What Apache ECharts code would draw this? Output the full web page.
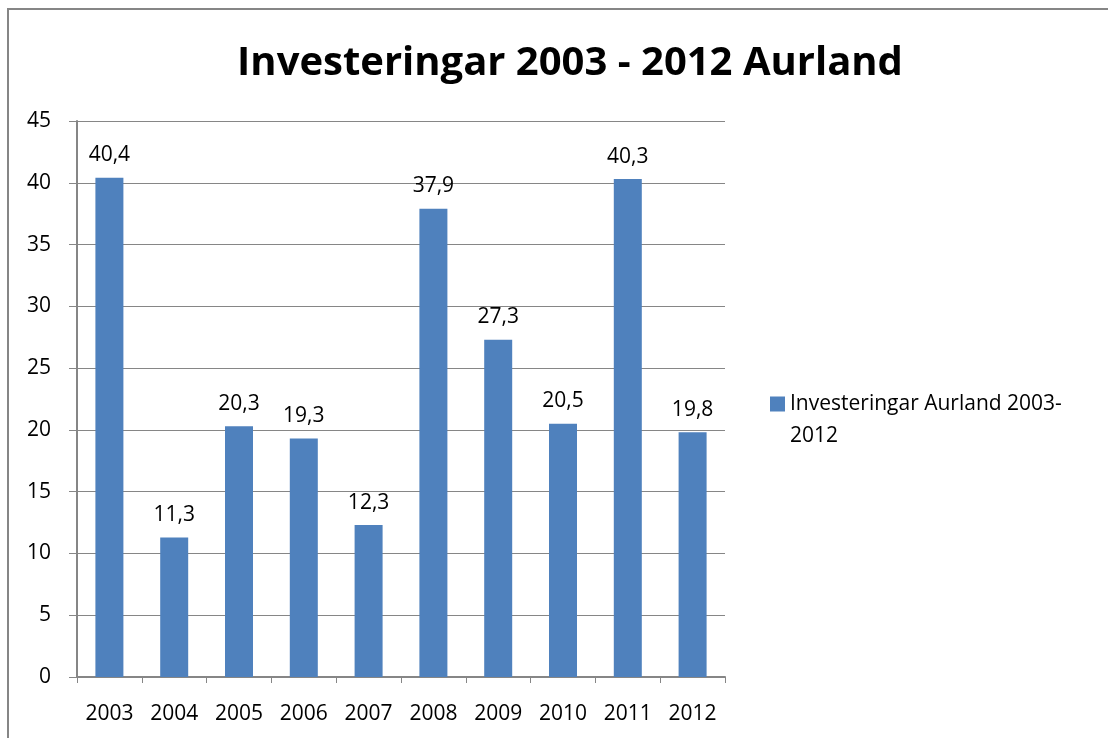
<!DOCTYPE html>
<html>
<head>
<meta charset="utf-8">
<script src="https://cdn.jsdelivr.net/npm/echarts@6/dist/echarts.min.js"></script>
<style>
  html, body { margin: 0; padding: 0; background: #fff; }
  #chart { width: 1108px; height: 738px; }
</style>
</head>
<body>
<div id="chart"></div>
<script>
// data
var years = ['2003', '2004', '2005', '2006', '2007', '2008', '2009', '2010', '2011', '2012'];
var values = [40.4, 11.3, 20.3, 19.3, 12.3, 37.9, 27.3, 20.5, 40.3, 19.8];
var seriesName = 'Investeringar Aurland 2003-2012';

var font = 'Open Sans';
var grey = '#868686';

var myChart = echarts.init(document.getElementById('chart'));
myChart.setOption({
    animation: false,
    backgroundColor: '#fff',
    title: {
        text: 'Investeringar 2003 - 2012 Aurland',
        left: 565,
        top: 39,
        textAlign: 'center',
        textStyle: { fontFamily: font, fontSize: 40, fontWeight: 'bold', color: '#000' }
    },
    // outer chart frame
    graphic: [{
        type: 'rect',
        shape: { x: 8, y: 9, width: 1200, height: 800 },
        style: { fill: null, stroke: grey, lineWidth: 2 },
        silent: true
    }],
    legend: {
        left: 770,
        top: 356,
        padding: 0,
        itemWidth: 15,
        itemHeight: 15,
        itemGap: 6,
        icon: 'rect',
        // leading blank line keeps the first text line level with the icon
        formatter: function () { return ' \nInvesteringar Aurland 2003-\n2012'; },
        textStyle: { fontFamily: font, fontSize: 21, color: '#000', lineHeight: 32 }
    },
    grid: { left: 77, right: 383, top: 121, bottom: 61 },
    xAxis: {
        type: 'category',
        data: years,
        axisLine: { lineStyle: { color: grey, width: 2 } },
        axisTick: { show: true, length: 6, lineStyle: { color: grey } },
        axisLabel: { fontFamily: font, fontSize: 21, color: '#000', margin: 27 }
    },
    yAxis: {
        type: 'value',
        min: 0,
        max: 45,
        interval: 5,
        axisLine: { show: true, lineStyle: { color: grey, width: 2 } },
        axisTick: { show: true, length: 8, lineStyle: { color: grey } },
        splitLine: { lineStyle: { color: grey, width: 1 } },
        axisLabel: { fontFamily: font, fontSize: 21, color: '#000', margin: 26 }
    },
    series: [{
        name: seriesName,
        type: 'bar',
        data: values,
        barWidth: 28,
        itemStyle: { color: '#4f81bd' },
        label: {
            show: true,
            position: 'top',
            distance: 12,
            fontFamily: font,
            fontSize: 21,
            color: '#000',
            formatter: function (p) { return String(p.value).replace('.', ','); }
        }
    }]
});
</script>
</body>
</html>
